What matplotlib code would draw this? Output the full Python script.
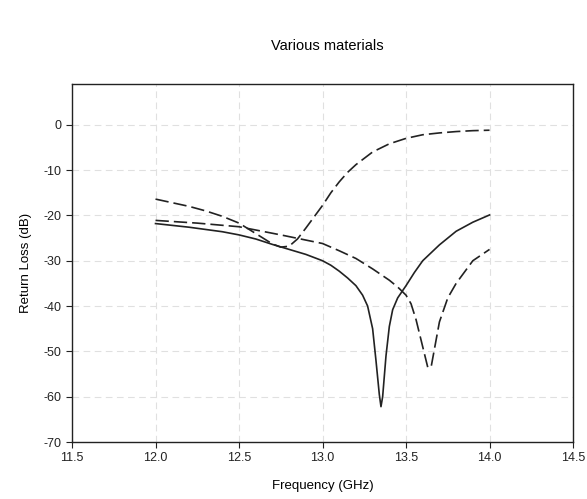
import matplotlib
matplotlib.use("Agg")
import matplotlib.pyplot as plt
import numpy as np

plt.rcParams["font.family"] = ["Liberation Sans", "DejaVu Sans"]
plt.rcParams["axes.unicode_minus"] = False

# solid curve
freq_a = [12.0, 12.2, 12.4, 12.5, 12.6, 12.7, 12.8, 12.9, 13.0, 13.05, 13.1, 13.15, 13.2,
          13.24, 13.27, 13.3, 13.32, 13.34, 13.35, 13.36, 13.38, 13.4, 13.42, 13.45,
          13.5, 13.55, 13.6, 13.7, 13.8, 13.9, 14.0]
loss_a = [-21.8, -22.6, -23.6, -24.3, -25.2, -26.4, -27.5, -28.6, -30.0, -31.0, -32.3, -33.8, -35.5,
          -37.6, -40.0, -45.0, -52.0, -59.5, -62.2, -60.0, -51.0, -44.5, -40.8, -38.2,
          -35.5, -32.6, -30.0, -26.5, -23.5, -21.5, -19.9]

# long-dash curve rising to ~0 dB
freq_b = [12.0, 12.1, 12.2, 12.3, 12.4, 12.5, 12.6, 12.7, 12.75, 12.8, 12.85, 12.9,
          12.95, 13.0, 13.05, 13.1, 13.15, 13.2, 13.3, 13.4, 13.5, 13.6, 13.7, 13.8, 13.9, 14.0]
loss_b = [-16.4, -17.2, -18.0, -19.0, -20.2, -21.7, -24.0, -26.3, -27.0, -26.8, -25.2, -22.8,
          -20.3, -17.8, -15.0, -12.6, -10.5, -8.8, -6.0, -4.2, -3.0, -2.2, -1.8, -1.5, -1.3, -1.2]

# dashed curve with resonance near 13.64 GHz
freq_c = [12.0, 12.25, 12.5, 12.75, 13.0, 13.1, 13.2, 13.3, 13.4, 13.45, 13.5, 13.53, 13.56,
          13.6, 13.63, 13.65, 13.67, 13.7, 13.75, 13.8, 13.9, 14.0]
loss_c = [-21.1, -21.7, -22.5, -24.3, -26.2, -27.8, -29.5, -31.8, -34.3, -35.8, -37.6, -39.5, -43.0,
          -49.0, -53.5, -53.5, -49.5, -43.5, -38.2, -35.0, -30.0, -27.5]

fig = plt.figure(figsize=(5.87, 4.99), dpi=100)
ax = fig.add_axes([0.1227, 0.1142, 0.8535, 0.7175])

ax.plot(freq_a, loss_a, color="#222222", lw=1.2)
ax.plot(freq_b, loss_b, color="#222222", lw=1.2, dashes=(8, 3))
ax.plot(freq_c, loss_c, color="#222222", lw=1.2, dashes=(8, 3))

ax.set_xlim(11.5, 14.5)
ax.set_ylim(-70, 9)
ax.set_xticks(np.arange(11.5, 14.51, 0.5))
ax.set_xticklabels([f"{v:.1f}" for v in np.arange(11.5, 14.51, 0.5)])
ax.set_yticks(np.arange(-70, 1, 10))
ax.grid(True, color="#e0e0e0", linestyle=(0, (6, 4)), lw=0.8)
ax.tick_params(direction="out", length=4, labelsize=9, colors="#222222")
for s in ax.spines.values():
    s.set_color("#222222")
    s.set_linewidth(1.0)

ax.set_xlabel("Frequency (GHz)", fontsize=9.5, labelpad=11)
ax.set_ylabel("Return Loss (dB)", fontsize=9.5, labelpad=8)
fig.text(0.557, 0.9, "Various materials", ha="center", fontsize=10.5)

fig.savefig("out.png", dpi=100)
